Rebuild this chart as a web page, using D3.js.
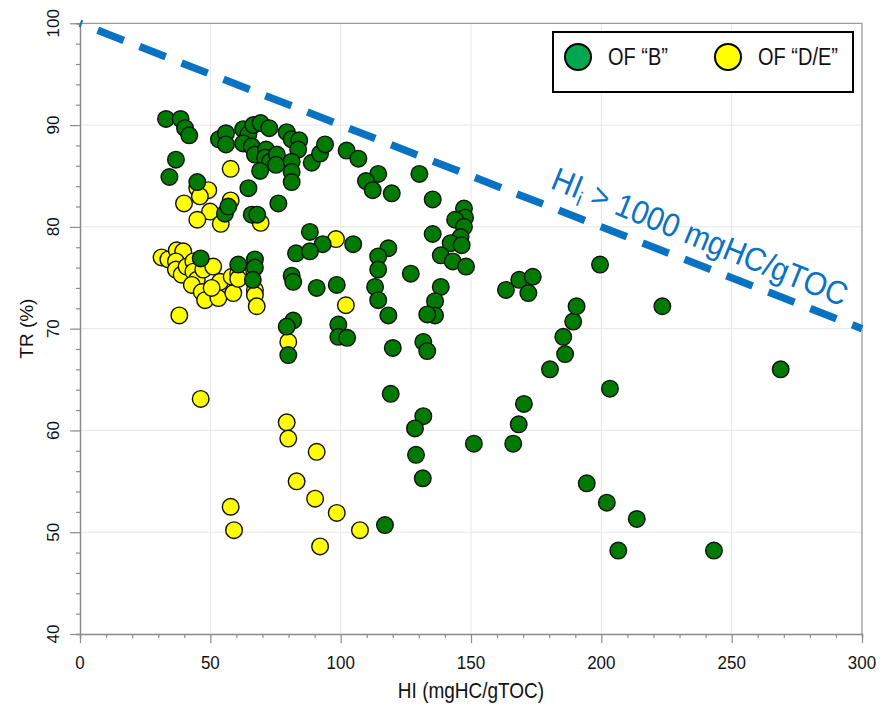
<!DOCTYPE html>
<html>
<head>
<meta charset="utf-8">
<script src="https://cdn.jsdelivr.net/npm/d3@7"></script>
<style>
  html, body { margin: 0; padding: 0; background: #fff; }
  svg { display: block; font-family: "Liberation Sans", Arial, sans-serif; }
</style>
</head>
<body>
<svg id="chart" width="881" height="706"></svg>
<script>
// Organic facies "B" samples: hydrogen index vs transformation ratio
const hiB = [33.0,38.6,40.3,41.9,53.3,56.0,56.0,62.6,64.6,66.5,
  69.3,72.6,62.6,65.9,67.1,71.4,71.0,72.9,75.5,75.2,
  69.1,79.3,81.2,84.1,83.7,81.2,81.2,81.2,88.9,92.1,
  94.0,102.3,106.8,36.8,34.3,45.0,55.6,56.9,64.6,76.1,
  65.9,68.0,88.2,93.1,104.8,82.9,88.2,46.3,60.7,67.1,
  67.1,66.3,81.2,81.8,90.8,98.5,81.8,79.3,79.9,99.1,
  99.1,102.5,114.4,109.7,112.3,119.6,130.2,135.3,147.3,147.7,
  143.9,147.3,146.0,142.2,146.4,138.4,143.0,148.1,135.3,118.3,
  114.4,114.4,126.9,113.2,114.4,138.4,136.2,136.2,133.2,118.3,
  120.0,131.7,133.2,163.4,168.5,173.7,172.0,119.2,131.7,128.5,
  128.9,131.5,117.0,151.1,166.2,168.3,170.3,180.3,186.1,185.4,
  189.2,190.5,199.5,223.4,268.8,203.3,194.4,202.1,213.6,206.5,243.2];
const trB = [90.6,90.6,89.7,89.0,88.6,89.2,88.1,89.6,89.1,90.0,
  90.2,89.7,88.2,87.9,87.1,87.6,86.8,86.4,87.1,86.1,
  85.5,89.3,88.6,88.5,87.6,86.4,85.4,84.4,86.3,87.2,
  88.1,87.5,86.7,86.6,84.9,84.4,81.3,82.0,83.8,82.3,
  81.2,81.2,79.5,78.3,78.3,77.4,77.6,76.9,76.3,76.8,
  76.0,74.8,75.2,74.6,74.0,74.3,70.8,70.2,67.4,70.4,
  69.2,69.1,85.2,84.5,83.6,83.3,85.2,82.7,81.8,80.9,
  80.7,80.0,79.0,78.4,78.2,77.2,76.6,76.1,79.3,77.9,
  77.1,75.8,75.4,74.1,72.8,74.1,72.7,71.3,71.4,71.3,
  68.1,68.7,67.8,73.8,74.8,75.1,73.5,63.6,61.4,60.2,
  57.6,55.3,50.7,58.7,58.7,60.6,62.6,66.0,67.5,69.2,
  70.7,72.2,76.3,72.2,66.0,64.1,54.8,52.9,51.3,48.2,48.2];

// Organic facies "D/E" samples
const hiDE = [57.8,45.0,49.2,46.0,39.9,49.9,45.0,54.0,57.8,69.3,
  98.2,31.3,33.9,37.1,39.6,36.8,36.8,39.0,40.9,43.5,
  43.5,44.8,42.9,47.3,51.1,46.7,48.0,53.1,53.7,50.5,
  58.8,58.2,60.7,60.7,67.1,67.1,67.8,38.1,102.0,79.9,
  46.3,79.3,79.9,90.8,83.1,90.2,98.5,107.4,92.1,57.8,59.1];
const trDE = [85.7,83.8,83.6,83.0,82.3,81.5,80.7,80.3,82.6,80.4,
  78.8,77.0,76.8,77.7,77.6,76.6,75.8,75.3,76.1,76.6,
  75.6,74.8,74.3,75.8,76.1,73.6,72.8,73.0,74.6,74.0,
  73.5,75.1,75.4,74.9,73.8,73.3,72.2,71.3,72.3,68.7,
  63.1,60.8,59.2,57.9,55.0,53.3,51.9,50.2,48.6,52.5,50.2];

// Axis ticks
const xTicks = [0, 50, 100, 150, 200, 250, 300];
const yTicks = [40, 50, 60, 70, 80, 90, 100];
const seriesNames = ["OF \u201CB\u201D", "OF \u201CD/E\u201D"];

// Reference line for initial HI = 1000 mgHC/gTOC: TR = 100 - HI/10
const refHI = [0, 300];
const refTR = [100, 70];

const svg = d3.select("#chart");
const padL = 80, padR = 862, padT = 23.3, padB = 634;

const x = d3.scaleLinear().domain([0, 300]).range([padL, padR]);
const y = d3.scaleLinear().domain([40, 100]).range([padB, padT]);

// gridlines
const grid = svg.append("g").attr("stroke", "#e6e6e6").attr("stroke-width", 1);
grid.selectAll(".gx").data(xTicks.slice(1, -1)).join("line")
  .attr("x1", d => x(d)).attr("x2", d => x(d)).attr("y1", padT).attr("y2", padB);
grid.selectAll(".gy").data(yTicks.slice(1, -1)).join("line")
  .attr("x1", padL).attr("x2", padR).attr("y1", d => y(d)).attr("y2", d => y(d));

// plot frame (top and right)
svg.append("path")
  .attr("d", `M${padL},${padT}H${padR}V${padB}`)
  .attr("fill", "none").attr("stroke", "#9a9a9a").attr("stroke-width", 1.3);

// x axis
const xAxis = d3.axisBottom(x).tickValues(d3.range(0, 301, 10))
  .tickSize(4).tickFormat(() => "");
const gx = svg.append("g").attr("transform", `translate(0,${padB})`).call(xAxis);
gx.select(".domain").attr("stroke", "#8a8a8a").attr("stroke-width", 1.5);
gx.selectAll(".tick line").attr("stroke", "#8a8a8a").attr("stroke-width", 1.2)
  .attr("y2", d => d % 50 === 0 ? 9 : 4);
svg.append("g").selectAll("text").data(xTicks).join("text")
  .attr("transform", d => `translate(${x(d)},669) scale(1,1.12)`)
  .attr("text-anchor", "middle").attr("font-size", 17).attr("fill", "#111")
  .text(d => d);

// y axis
const yAxis = d3.axisLeft(y).tickValues(d3.range(40, 101, 2))
  .tickSize(4).tickFormat(() => "");
const gy = svg.append("g").attr("transform", `translate(${padL},0)`).call(yAxis);
gy.select(".domain").attr("stroke", "#8a8a8a").attr("stroke-width", 1.5);
gy.selectAll(".tick line").attr("stroke", "#8a8a8a").attr("stroke-width", 1.2)
  .attr("x2", d => d % 10 === 0 ? -10 : -4);
svg.append("g").selectAll("text").data(yTicks).join("text")
  .attr("transform", d => `translate(59,${y(d)}) rotate(-90)`)
  .attr("text-anchor", "middle").attr("font-size", 17).attr("fill", "#111")
  .text(d => d);

// axis titles
svg.append("text").attr("transform", `translate(${(padL + padR) / 2},698) scale(1,1.12)`)
  .attr("text-anchor", "middle").attr("font-size", 19).attr("fill", "#111")
  .text("HI (mgHC/gTOC)");
svg.append("text").attr("transform", `translate(33,${(padT + padB) / 2}) rotate(-90)`)
  .attr("text-anchor", "middle").attr("font-size", 19).attr("fill", "#111")
  .text("TR (%)");

// dashed HI_i = 1000 line
const line = d3.line().x(d => x(d[0])).y(d => y(d[1]));
svg.append("path").datum(d3.zip(refHI, refTR))
  .attr("d", line).attr("fill", "none")
  .attr("stroke", "#0a72c3").attr("stroke-width", 7.5)
  .attr("stroke-dasharray", "28,17").attr("stroke-dashoffset", 26);

// line label, rotated along the line
const angle = Math.atan2(y(refTR[1]) - y(refTR[0]), x(refHI[1]) - x(refHI[0])) * 180 / Math.PI;
const labHI = 234;
const lab = svg.append("text")
  .attr("transform", `translate(${x(labHI)},${y(100 - labHI / 10)}) rotate(${angle + 0.8}) scale(1,1.1)`)
  .attr("y", -14).attr("text-anchor", "middle")
  .attr("font-size", 30).attr("fill", "#0a72c3");
lab.append("tspan").text("HI");
lab.append("tspan").attr("font-size", 19).attr("dy", 6).text("i");
lab.append("tspan").attr("dy", -6).text(" > 1000 mgHC/gTOC");

// points
const ptsDE = d3.zip(hiDE, trDE);
const ptsB = d3.zip(hiB, trB);
svg.append("g").selectAll("circle").data(ptsDE).join("circle")
  .attr("cx", d => x(d[0])).attr("cy", d => y(d[1])).attr("r", 8.3)
  .attr("fill", "#ffff00").attr("stroke", "#111").attr("stroke-width", 1.4);
svg.append("g").selectAll("circle").data(ptsB).join("circle")
  .attr("cx", d => x(d[0])).attr("cy", d => y(d[1])).attr("r", 8.3)
  .attr("fill", "#007a00").attr("stroke", "#111").attr("stroke-width", 1.4);

// legend
const lg = svg.append("g");
lg.append("rect").attr("x", 553).attr("y", 32).attr("width", 300).attr("height", 60)
  .attr("fill", "#fff").attr("stroke", "#000").attr("stroke-width", 2);
const legendColors = ["#00a650", "#ffff00"];
const legendX = [578, 728];
seriesNames.forEach((name, i) => {
  lg.append("circle").attr("cx", legendX[i]).attr("cy", 57).attr("r", 13)
    .attr("fill", legendColors[i]).attr("stroke", "#000").attr("stroke-width", 2);
  lg.append("text").attr("transform", `translate(${legendX[i] + 30},65) scale(1,1.15)`)
    .attr("font-size", 20).attr("fill", "#111").text(name);
});
</script>
</body>
</html>
